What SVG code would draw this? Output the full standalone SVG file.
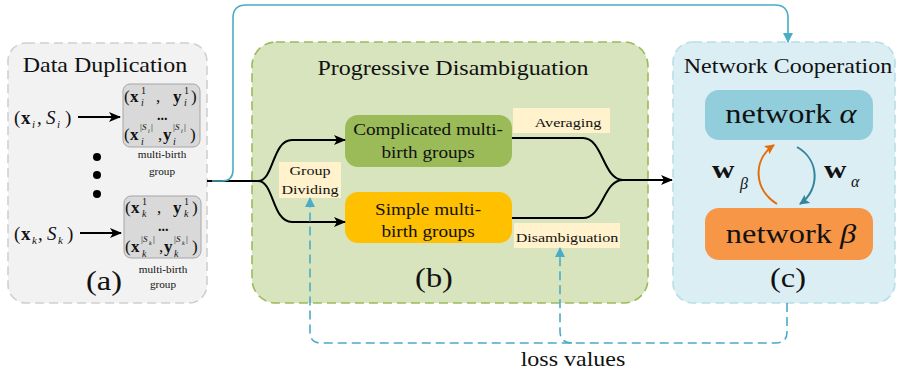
<svg xmlns="http://www.w3.org/2000/svg" width="899" height="372" viewBox="0 0 899 372">
<style>
text{font-family:"Liberation Serif","Times New Roman",serif;fill:#111}
.t20{font-size:20px}
.bx{font-size:16px}
.lb{font-size:13.4px}
.mb{font-size:11.2px}
.pl{font-size:27px}
.b{font-weight:bold}
.i{font-style:italic}
.s10{font-size:10px}
.s9{font-size:9px}
.s6{font-size:6px}
.dt{font-size:14px;font-weight:bold}
.panel{stroke-width:1.6;stroke-dasharray:9 5}
.blk{fill:none;stroke:#000;stroke-width:2}
.bl{fill:none;stroke:#4bacc6;stroke-width:1.6}
</style>
<defs>
<marker id="ak" markerUnits="userSpaceOnUse" markerWidth="12" markerHeight="10" refX="11" refY="5" orient="auto"><path d="M0,0 L12,5 L0,10 L3,5 z" fill="#000"/></marker>
<marker id="ab" markerUnits="userSpaceOnUse" markerWidth="10" markerHeight="10" refX="9" refY="5" orient="auto"><path d="M0,0 L10,5 L0,10 z" fill="#4bacc6"/></marker>
<marker id="ao" markerUnits="userSpaceOnUse" markerWidth="10" markerHeight="10" refX="9" refY="5" orient="auto"><path d="M0,0 L10,5 L0,10 L2,5 z" fill="#e46c0a"/></marker>
<marker id="at" markerUnits="userSpaceOnUse" markerWidth="10" markerHeight="10" refX="9" refY="5" orient="auto"><path d="M0,0 L10,5 L0,10 L2,5 z" fill="#31859c"/></marker>
</defs>

<!-- Panel (a) -->
<g id="panel-a">
<rect x="8" y="43" width="199" height="260" rx="18" fill="#f2f2f2" stroke="#d0d0d0" class="panel"/>
<text class="t20" text-anchor="middle" transform="translate(105 72) scale(1.2 1)">Data Duplication</text>
<text class="pl" text-anchor="middle" transform="translate(104 290) scale(1.2 1)">(a)</text>
</g>

<g id="input-i">
<text style="font-size:19px"><tspan x="14" y="124">(</tspan><tspan x="21" y="124" class="b">x</tspan><tspan x="32" y="128" class="i" style="font-size:11px">i</tspan><tspan x="37" y="124">,</tspan><tspan x="46" y="124" class="i">S</tspan><tspan x="57" y="128" class="i" style="font-size:11px">i</tspan><tspan x="65" y="124">)</tspan></text>
</g>
<g id="input-k">
<text style="font-size:19px"><tspan x="14" y="240">(</tspan><tspan x="21" y="240" class="b">x</tspan><tspan x="32" y="244" class="i" style="font-size:11px">k</tspan><tspan x="38" y="240">,</tspan><tspan x="47" y="240" class="i">S</tspan><tspan x="58" y="244" class="i" style="font-size:11px">k</tspan><tspan x="67" y="240">)</tspan></text>
</g>

<g id="dots">
<circle cx="97" cy="157" r="4" fill="#000"/>
<circle cx="97" cy="175" r="4" fill="#000"/>
<circle cx="97" cy="194" r="4" fill="#000"/>
</g>

<g id="group-i">
<rect x="123" y="84" width="77" height="63" rx="7" fill="#d9d9d9" stroke="#a6a6a6" stroke-width="1"/>
<text style="font-size:17px"><tspan x="124" y="102">(</tspan><tspan x="130" y="102" class="b">x</tspan><tspan x="141" y="94" class="s10">1</tspan><tspan x="141" y="106" class="s10 i">i</tspan><tspan x="156" y="102">,</tspan><tspan x="173" y="102" class="b">y</tspan><tspan x="184" y="94" class="s10">1</tspan><tspan x="184" y="106" class="s10 i">i</tspan><tspan x="191" y="102">)</tspan><tspan x="157" y="120" class="dt">...</tspan><tspan x="124" y="140">(</tspan><tspan x="130" y="140" class="b">x</tspan><tspan x="140" y="130" class="s9">|</tspan><tspan x="142" y="130" class="s9 i">S</tspan><tspan x="148" y="133" class="s6 i">i</tspan><tspan x="151" y="130" class="s9">|</tspan><tspan x="141" y="145" class="s10 i">i</tspan><tspan x="158" y="140">,</tspan><tspan x="163" y="140" class="b">y</tspan><tspan x="173" y="130" class="s9">|</tspan><tspan x="175" y="130" class="s9 i">S</tspan><tspan x="181" y="133" class="s6 i">i</tspan><tspan x="184" y="130" class="s9">|</tspan><tspan x="173" y="145" class="s10 i">i</tspan><tspan x="190" y="140">)</tspan></text>
<text class="mb" text-anchor="middle" x="162" y="158">multi-birth</text>
<text class="mb" text-anchor="middle" x="162" y="175">group</text>
</g>

<g id="group-k">
<rect x="124" y="196" width="77" height="62" rx="7" fill="#d9d9d9" stroke="#a6a6a6" stroke-width="1"/>
<text style="font-size:17px"><tspan x="125" y="213">(</tspan><tspan x="131" y="213" class="b">x</tspan><tspan x="142" y="205" class="s10">1</tspan><tspan x="142" y="217" class="s10 i">k</tspan><tspan x="157" y="213">,</tspan><tspan x="173" y="213" class="b">y</tspan><tspan x="184" y="205" class="s10">1</tspan><tspan x="184" y="217" class="s10 i">k</tspan><tspan x="192" y="213">)</tspan><tspan x="158" y="231" class="dt">...</tspan><tspan x="125" y="252">(</tspan><tspan x="131" y="252" class="b">x</tspan><tspan x="141" y="242" class="s9">|</tspan><tspan x="143" y="242" class="s9 i">S</tspan><tspan x="149" y="245" class="s6 i">k</tspan><tspan x="153" y="242" class="s9">|</tspan><tspan x="142" y="257" class="s10 i">k</tspan><tspan x="159" y="252">,</tspan><tspan x="164" y="252" class="b">y</tspan><tspan x="174" y="242" class="s9">|</tspan><tspan x="176" y="242" class="s9 i">S</tspan><tspan x="182" y="245" class="s6 i">k</tspan><tspan x="186" y="242" class="s9">|</tspan><tspan x="174" y="257" class="s10 i">k</tspan><tspan x="192" y="252">)</tspan></text>
<text class="mb" text-anchor="middle" x="163" y="273">multi-birth</text>
<text class="mb" text-anchor="middle" x="163" y="288">group</text>
</g>

<!-- Panel (b) -->
<g id="panel-b">
<rect x="252" y="42" width="396" height="261" rx="24" fill="#d7e4bd" stroke="#9bbb59" class="panel"/>
<text class="t20" text-anchor="middle" transform="translate(453 75) scale(1.2 1)">Progressive Disambiguation</text>
<text class="pl" text-anchor="middle" transform="translate(434 287) scale(1.2 1)">(b)</text>
</g>

<g id="complicated">
<rect x="345" y="115" width="167" height="52" rx="13" fill="#9bbb59"/>
<text class="bx" text-anchor="middle" transform="translate(428 135) scale(1.2 1)">Complicated multi-</text>
<text class="bx" text-anchor="middle" transform="translate(428 158) scale(1.2 1)">birth groups</text>
</g>

<g id="simple">
<rect x="345" y="192" width="167" height="51" rx="13" fill="#ffc000"/>
<text class="bx" text-anchor="middle" transform="translate(428 215) scale(1.2 1)">Simple multi-</text>
<text class="bx" text-anchor="middle" transform="translate(428 237) scale(1.2 1)">birth groups</text>
</g>

<g id="averaging">
<rect x="513" y="108" width="97" height="25" fill="#fff2cc"/>
<text class="lb" text-anchor="middle" transform="translate(568 127) scale(1.2 1)">Averaging</text>
</g>

<g id="disambiguation">
<rect x="514" y="223" width="106" height="25" fill="#fff2cc"/>
<text class="lb" text-anchor="middle" transform="translate(567 242) scale(1.2 1)">Disambiguation</text>
</g>

<g id="group-dividing">
<rect x="279" y="162" width="62" height="36" fill="#fff2cc"/>
<text class="lb" text-anchor="middle" transform="translate(310 175) scale(1.2 1)">Group</text>
<text class="lb" text-anchor="middle" transform="translate(310 194) scale(1.2 1)">Dividing</text>
</g>

<!-- Panel (c) -->
<g id="panel-c">
<rect x="673" y="42" width="222" height="261" rx="20" fill="#dbeef4" stroke="#b7dee8" class="panel"/>
<text class="t20" text-anchor="middle" transform="translate(788 73) scale(1.2 1)">Network Cooperation</text>
<text class="pl" text-anchor="middle" transform="translate(788 287) scale(1.2 1)">(c)</text>
</g>

<g id="network-alpha">
<rect x="705" y="90" width="168" height="50" rx="14" fill="#92cddc"/>
<text style="font-size:27px" text-anchor="middle" transform="translate(791 123) scale(1.2 1)">network <tspan class="i">α</tspan></text>
</g>

<g id="network-beta">
<rect x="705" y="208" width="168" height="52" rx="14" fill="#f79646"/>
<text style="font-size:27px" text-anchor="middle" transform="translate(791 243) scale(1.2 1)">network <tspan class="i">β</tspan></text>
</g>

<g id="w-labels">
<text class="b" style="font-size:26px" transform="translate(712 178) scale(1.2 1)">w</text>
<text class="i" style="font-size:16px" x="740" y="189">β</text>
<text class="b" style="font-size:26px" transform="translate(824 178) scale(1.2 1)">w</text>
<text class="i" style="font-size:16px" x="851" y="187">α</text>
</g>

<!-- Connectors -->
<g id="connectors">
<path class="blk" d="M 207 181 H 258"/>
<path class="blk" d="M 258 181 C 274 181 272 140 292 140 H 345" marker-end="url(#ak)"/>
<path class="blk" d="M 258 181 C 274 181 272 222 292 222 H 345" marker-end="url(#ak)"/>
<path class="blk" d="M 512 138 H 583 C 603 138 603 180 623 180"/>
<path class="blk" d="M 512 218 H 583 C 603 218 603 180 623 180"/>
<path class="blk" d="M 623 180 H 672" marker-end="url(#ak)"/>
<path class="blk" d="M 78 117 H 120" marker-end="url(#ak)"/>
<path class="blk" d="M 80 233 H 121" marker-end="url(#ak)"/>
<path class="bl" d="M 212 181 H 222 Q 233 181 233 170 V 18 Q 233 5 246 5 H 775 Q 788 5 788 18 V 42" marker-end="url(#ab)"/>
<path class="bl" stroke-dasharray="9 5" d="M 787 303 V 332 Q 787 343 776 343 H 321 Q 310 343 310 332 V 198" marker-end="url(#ab)"/>
<path class="bl" stroke-dasharray="9 5" d="M 572 343 Q 560 343 560 331 V 248" marker-end="url(#ab)"/>
<path fill="none" stroke="#e46c0a" stroke-width="2" d="M 777 204 C 754 190 752 160 774 145" marker-end="url(#ao)"/>
<path fill="none" stroke="#31859c" stroke-width="2" d="M 797 147 C 820 160 820 190 800 204" marker-end="url(#at)"/>
</g>

<text class="t20" text-anchor="middle" transform="translate(573 366) scale(1.2 1)">loss values</text>
</svg>
